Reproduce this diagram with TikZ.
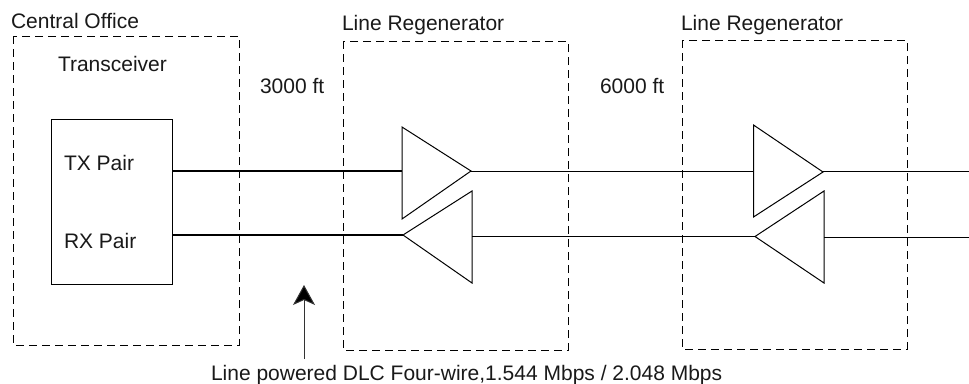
\documentclass[tikz,border=0pt]{standalone}
\usepackage{fontspec}
\setmainfont{Liberation Sans}
\usetikzlibrary{arrows.meta}
\tikzset{
  lbl/.style={anchor=base west,inner sep=0pt,outer sep=0pt,font=\fontsize{21}{24}\selectfont,text=black!90},
  group/.style={draw=black,line width=0.9pt,dash pattern=on 8pt off 5pt},
  block/.style={draw=black,line width=1pt},
  tri/.style={draw=black,line width=1pt,line join=miter},
  thick wire/.style={draw=black,line width=2pt},
  thin wire/.style={draw=black,line width=1pt},
  pointer/.style={draw=black!80,line width=1pt,-{Stealth[length=20pt,width=22pt,inset=5pt,fill=black]}},
}
\begin{document}
\begin{tikzpicture}[x=1pt,y=-1pt]
\useasboundingbox (0,0) rectangle (969,383);
% groups
\draw[group] (13,36) rectangle (239,345);
\draw[group] (343,41) rectangle (568,350);
\draw[group] (682,40) rectangle (907,349);
% transceiver
\draw[block] (51,119) rectangle (172,284);
% coordinates
\coordinate (txs) at (172,171);
\coordinate (rxs) at (172,235);
\coordinate (t1a) at (402,127); \coordinate (t1b) at (402,219); \coordinate (t1o) at (471,171); \coordinate (t1i) at (402,171);
\coordinate (t2a) at (472,191); \coordinate (t2b) at (472,283); \coordinate (t2o) at (403,235); \coordinate (t2i) at (472,236.5);
\coordinate (t3a) at (753.5,125); \coordinate (t3b) at (753.5,217); \coordinate (t3o) at (823,172); \coordinate (t3i) at (753.5,171);
\coordinate (t4a) at (824,191); \coordinate (t4b) at (824,283); \coordinate (t4o) at (755,236.5); \coordinate (t4i) at (824,237.5);
\coordinate (e1) at (969,171.5);
\coordinate (e2) at (969,237.5);
\coordinate (ps) at (304,359);
\coordinate (pe) at (304,285);
% triangles
\draw[tri] (t1a) -- (t1o) -- (t1b) -- cycle;
\draw[tri] (t2a) -- (t2o) -- (t2b) -- cycle;
\draw[tri] (t3a) -- (t3o) -- (t3b) -- cycle;
\draw[tri] (t4a) -- (t4o) -- (t4b) -- cycle;
% wires
\draw[thick wire] (txs) -- (t1i);
\draw[thick wire] (rxs) -- (t2o);
\draw[thin wire] (t1o) -- (t3i);
\draw[thin wire] (t2i) -- (t4o);
\draw[thin wire] (t3o |- e1) -- (e1);
\draw[thin wire] (t4i) -- (e2);
\draw[pointer] (ps) -- (pe);
% labels
\node[lbl] (co) at (11,28) {Central Office};
\node[lbl] (tr) at (58,71) {Transceiver};
\node[lbl] (d1) at (260,93) {3000 ft};
\node[lbl] (d2) at (600,93) {6000 ft};
\node[lbl] (lr1) at (342,30) {Line Regenerator};
\node[lbl] (lr2) at (681,30) {Line Regenerator};
\node[lbl] (tx) at (64,170) {TX Pair};
\node[lbl] (rx) at (64,248) {RX Pair};
\node[lbl] (cap) at (211,380) {Line powered DLC Four-wire,1.544 Mbps / 2.048 Mbps};
\end{tikzpicture}
\end{document}
